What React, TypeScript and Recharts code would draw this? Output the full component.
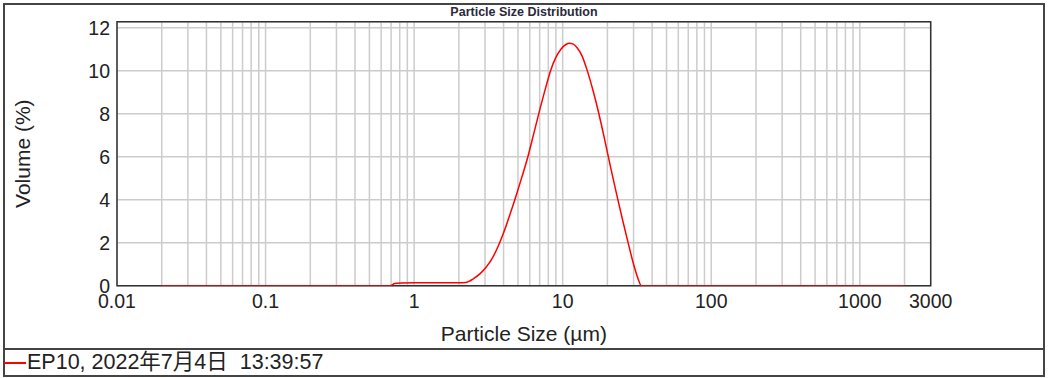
import React from "react";
import {
  LineChart,
  Line,
  XAxis,
  YAxis,
  CartesianGrid,
  ReferenceArea,
} from "recharts";

// Particle sizes (µm) and volume (%)
const sizes = [
  0.02, 0.5, 0.69, 0.74, 0.82, 1.0, 1.5, 2.0, 2.23, 2.37, 2.5, 2.77, 3.04, 3.34,
  3.66, 4.02, 4.41, 4.84, 5.31, 5.83, 6.4, 7.02, 7.71, 8.33, 9.0, 9.73, 10.51,
  11.1, 11.71, 12.46, 13.47, 14.56, 15.97, 17.52, 19.23, 21.11, 23.16, 25.42,
  27.9, 30.13, 32.07, 33.86, 40, 2000,
];
const volumes = [
  0, 0, 0, 0.1, 0.13, 0.14, 0.14, 0.14, 0.15, 0.22, 0.32, 0.55, 0.85, 1.25, 1.8,
  2.5, 3.3, 4.15, 5.05, 6.0, 7.1, 8.2, 9.25, 10.05, 10.62, 11.0, 11.22, 11.28,
  11.25, 11.08, 10.7, 10.05, 9.1, 8.0, 6.75, 5.45, 4.2, 3.0, 1.85, 0.95, 0.35,
  0, 0, 0,
];

const gridTicks = [
  0.01, 0.02, 0.03, 0.04, 0.05, 0.06, 0.07, 0.08, 0.09, 0.1, 0.2, 0.3, 0.4, 0.5,
  0.6, 0.7, 0.8, 0.9, 1, 2, 3, 4, 5, 6, 7, 8, 9, 10, 20, 30, 40, 50, 60, 70, 80,
  90, 100, 200, 300, 400, 500, 600, 700, 800, 900, 1000, 2000, 3000,
];
const xLabelTicks = [0.01, 0.1, 1, 10, 100, 1000, 3000];
const yTicks = [0, 2, 4, 6, 8, 10, 12];

const title = "Particle Size Distribution";
const xTitle = "Particle Size (µm)";
const yTitle = "Volume (%)";
const legendText = "EP10, 2022年7月4日  13:39:57";

const data = sizes.map((s, i) => ({ size: s, volume: volumes[i] }));

const FONT = '"Liberation Sans", Arial, "Noto Sans CJK SC", sans-serif';
const TEXT = "#222";
const YMAX = 12.28;

const XLabel = (props: any) => {
  const vb = props.viewBox || {};
  return (
    <text
      x={vb.x + vb.width / 2}
      y={333}
      textAnchor="middle"
      dominantBaseline="central"
      fontSize={21}
      fontFamily={FONT}
      fill={TEXT}
    >
      {xTitle}
    </text>
  );
};

const YLabel = (props: any) => {
  const vb = props.viewBox || {};
  const cx = 23;
  const cy = vb.y + vb.height / 2;
  return (
    <text
      x={cx}
      y={cy}
      transform={`rotate(-90, ${cx}, ${cy})`}
      textAnchor="middle"
      dominantBaseline="central"
      fontSize={21}
      fontFamily={FONT}
      fill={TEXT}
    >
      {yTitle}
    </text>
  );
};

export default function App() {
  return (
    <div
      style={{
        position: "absolute",
        left: 0,
        top: 0,
        width: 1049,
        height: 378,
        background: "#fff",
        fontFamily: FONT,
      }}
    >
      <div
        style={{
          position: "absolute",
          left: 3,
          top: 3,
          width: 1042,
          height: 374,
          boxSizing: "border-box",
          border: "2px solid #444",
        }}
      />
      <div
        style={{
          position: "absolute",
          left: 3,
          top: 348,
          width: 1042,
          height: 2,
          background: "#444",
        }}
      />
      <div
        style={{
          position: "absolute",
          left: 117,
          width: 814,
          top: 4,
          height: 17,
          lineHeight: "17px",
          textAlign: "center",
          fontSize: 12.5,
          fontWeight: "bold",
          color: "#2a2a3a",
        }}
      >
        {title}
      </div>
      <div style={{ position: "absolute", left: 0, top: 0 }}>
        <LineChart
          width={1049}
          height={349}
          data={data}
          margin={{ top: 21.7, right: 118.3, left: 0, bottom: 3.3 }}
        >
          <CartesianGrid
            stroke="#cccccc"
            strokeWidth={1.5}
            vertical={true}
            horizontal={true}
          />
          <XAxis
            dataKey="size"
            type="number"
            scale="log"
            domain={[0.01, 3000]}
            ticks={gridTicks}
            interval={0}
            allowDataOverflow
            tickFormatter={(v: number) =>
              xLabelTicks.includes(v) ? String(v) : ""
            }
            tickLine={false}
            axisLine={false}
            tickSize={0}
            tickMargin={8}
            height={60}
            tick={{ fontSize: 19.5, fontFamily: FONT, fill: TEXT }}
            label={<XLabel />}
          />
          <YAxis
            type="number"
            domain={[0, YMAX]}
            ticks={yTicks}
            interval={0}
            allowDataOverflow
            tickLine={false}
            axisLine={false}
            tickSize={0}
            tickMargin={7}
            width={117}
            tick={{ fontSize: 19.5, fontFamily: FONT, fill: TEXT }}
            label={<YLabel />}
          />
          <ReferenceArea
            x1={0.01}
            x2={3000}
            y1={0}
            y2={YMAX}
            fill="none"
            stroke="#333"
            strokeWidth={1.5}
            ifOverflow="visible"
          />
          <Line
            type="monotone"
            dataKey="volume"
            stroke="#ff0000"
            strokeWidth={1.5}
            dot={false}
            isAnimationActive={false}
          />
        </LineChart>
      </div>
      <div
        style={{
          position: "absolute",
          left: 4,
          top: 362,
          width: 22,
          height: 1.5,
          background: "#ff0000",
        }}
      />
      <div
        style={{
          position: "absolute",
          left: 27,
          top: 349,
          height: 26,
          lineHeight: "26px",
          fontSize: 21.5,
          color: TEXT,
          whiteSpace: "pre",
        }}
      >
        {legendText}
      </div>
    </div>
  );
}
